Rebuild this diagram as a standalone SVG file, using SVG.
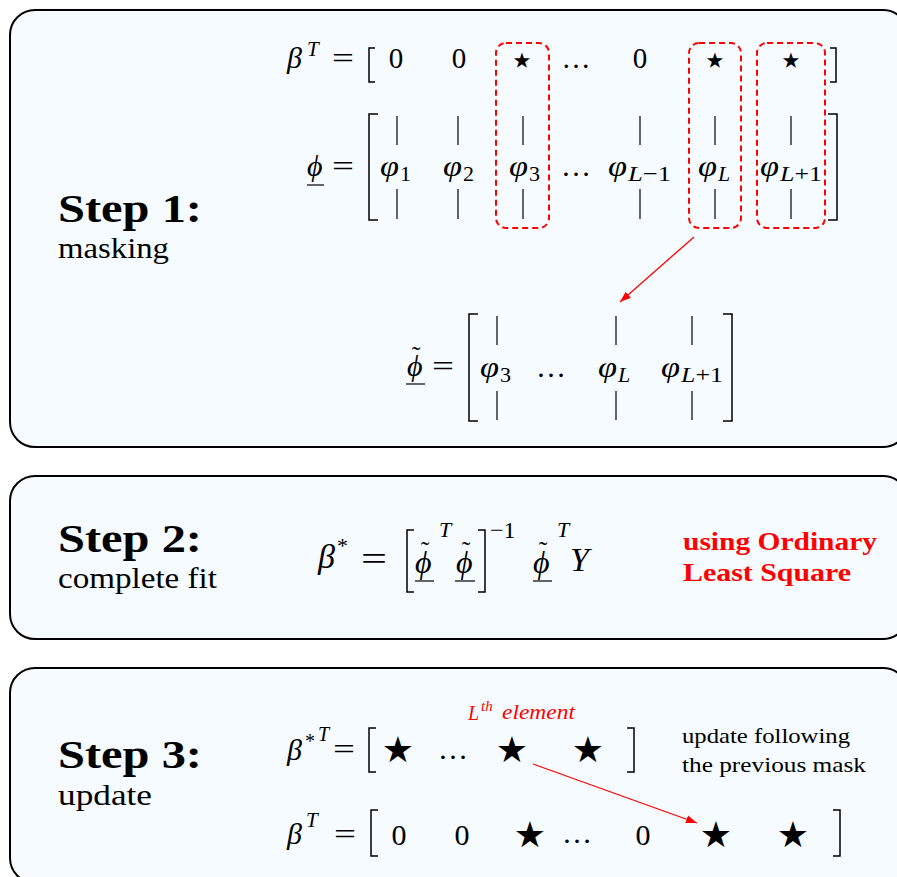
<svg xmlns="http://www.w3.org/2000/svg" width="897" height="877" viewBox="0 0 897 877">
  <defs>
    <marker id="arrowRed" markerUnits="userSpaceOnUse" markerWidth="12" markerHeight="10" refX="11" refY="5" orient="auto">
      <path d="M0,1 L11,5 L0,9 Z" fill="#ff0000"/>
    </marker>
    <style>
      .box { fill: #f5fbfe; stroke: #000; stroke-width: 2; }
      .serif { font-family: "Liberation Serif", "DejaVu Serif", serif; fill: #000; }
      .head { font-family: "Liberation Serif", "DejaVu Serif", serif; font-weight: bold; font-size: 40px; fill: #000; }
      .sub { font-family: "Liberation Serif", "DejaVu Serif", serif; font-size: 29px; fill: #000; }
      .mi { font-family: "Liberation Serif", "DejaVu Serif", serif; font-style: italic; fill: #000; }
      .mr { font-family: "Liberation Serif", "DejaVu Serif", serif; fill: #000; }
      .acc { font-style: normal; font-size: 26px; text-anchor: middle; }
      .sym { font-family: "DejaVu Sans", sans-serif; fill: #000; }
      .bar { stroke: #000; stroke-width: 1.2; }
      .brk { fill: none; stroke: #000; stroke-width: 1.5; }
      .ul { stroke: #000; stroke-width: 1.2; }
      .mask { fill: none; stroke: #ff0000; stroke-width: 2; stroke-dasharray: 6 4; }
      .link { stroke: #ff0000; stroke-width: 1.3; fill: none; marker-end: url(#arrowRed); }
      .red { fill: #ff0000; }
    </style>
  </defs>

  <!-- Step 1: masking -->
  <g id="step1">
    <rect class="box" x="10" y="10" width="898" height="437" rx="25"/>
    <text class="head" x="58" y="222" textLength="144" lengthAdjust="spacingAndGlyphs">Step 1:</text>
    <text class="sub" x="58" y="258" textLength="111" lengthAdjust="spacingAndGlyphs">masking</text>

    <!-- beta^T row -->
    <text class="mi" x="287" y="68" font-size="30">β</text>
    <text class="mi" x="307" y="56" font-size="21">T</text>
    <text class="mr" x="332" y="68" font-size="30" textLength="22" lengthAdjust="spacingAndGlyphs">=</text>
    <path class="brk" d="M375,48 H369 V82 H375"/>
    <g class="mr" font-size="29" text-anchor="middle">
      <text x="396" y="68">0</text>
      <text x="459" y="68">0</text>
      <text x="576" y="68">…</text>
      <text x="640" y="68">0</text>
    </g>
    <g class="sym" font-size="42" text-anchor="middle">
      <text x="522" y="74">⋆</text>
      <text x="715" y="74">⋆</text>
      <text x="791" y="74">⋆</text>
    </g>
    <path class="brk" d="M830,48 H836 V82 H830"/>

    <!-- phi matrix -->
    <text class="mi" x="307" y="176" font-size="30">ϕ</text>
    <line class="ul" x1="307" y1="185" x2="324" y2="185"/>
    <text class="mr" x="332" y="176" font-size="30" textLength="22" lengthAdjust="spacingAndGlyphs">=</text>
    <path class="brk" d="M378,114 H369 V220 H378"/>
    <g class="bar">
      <line x1="397" y1="116" x2="397" y2="145"/><line x1="397" y1="189" x2="397" y2="219"/>
      <line x1="458" y1="116" x2="458" y2="145"/><line x1="458" y1="189" x2="458" y2="219"/>
      <line x1="523" y1="116" x2="523" y2="145"/><line x1="523" y1="189" x2="523" y2="219"/>
      <line x1="640" y1="116" x2="640" y2="145"/><line x1="640" y1="189" x2="640" y2="219"/>
      <line x1="715" y1="116" x2="715" y2="145"/><line x1="715" y1="189" x2="715" y2="219"/>
      <line x1="791" y1="116" x2="791" y2="145"/><line x1="791" y1="189" x2="791" y2="219"/>
    </g>
    <g font-size="30">
      <text class="mi" x="380" y="176" textLength="19" lengthAdjust="spacingAndGlyphs">φ</text><text class="mr" x="400" y="181" font-size="22">1</text>
      <text class="mi" x="443" y="176" textLength="19" lengthAdjust="spacingAndGlyphs">φ</text><text class="mr" x="463" y="181" font-size="22">2</text>
      <text class="mi" x="509" y="176" textLength="19" lengthAdjust="spacingAndGlyphs">φ</text><text class="mr" x="529" y="181" font-size="22">3</text>
      <text class="mr" x="576" y="176" text-anchor="middle">…</text>
      <text class="mi" x="608" y="176" textLength="19" lengthAdjust="spacingAndGlyphs">φ</text><text class="mi" x="628" y="181" font-size="22" textLength="43" lengthAdjust="spacingAndGlyphs">L<tspan class="mr" font-style="normal">−1</tspan></text>
      <text class="mi" x="698" y="176" textLength="19" lengthAdjust="spacingAndGlyphs">φ</text><text class="mi" x="718" y="181" font-size="22">L</text>
      <text class="mi" x="760" y="176" textLength="19" lengthAdjust="spacingAndGlyphs">φ</text><text class="mi" x="780" y="181" font-size="22" textLength="42" lengthAdjust="spacingAndGlyphs">L<tspan class="mr" font-style="normal">+1</tspan></text>
    </g>
    <path class="brk" d="M828,114 H837 V220 H828"/>

    <!-- columns kept by the mask -->
    <rect class="mask" x="496" y="43" width="53" height="185" rx="10"/>
    <rect class="mask" x="689" y="43" width="52" height="185" rx="10"/>
    <rect class="mask" x="757" y="43" width="68" height="185" rx="10"/>

    <!-- reduced matrix phi tilde -->
    <text class="mi" x="407" y="376" font-size="30">ϕ<tspan class="acc" x="416" y="364">˜</tspan></text>
    <line class="ul" x1="406" y1="384" x2="425" y2="384"/>
    <text class="mr" x="432" y="376" font-size="30" textLength="22" lengthAdjust="spacingAndGlyphs">=</text>
    <path class="brk" d="M478,314 H469 V421 H478"/>
    <g class="bar">
      <line x1="497" y1="316" x2="497" y2="345"/><line x1="497" y1="391" x2="497" y2="420"/>
      <line x1="616" y1="316" x2="616" y2="345"/><line x1="616" y1="391" x2="616" y2="420"/>
      <line x1="692" y1="316" x2="692" y2="345"/><line x1="692" y1="391" x2="692" y2="420"/>
    </g>
    <g font-size="30">
      <text class="mi" x="480" y="377" textLength="19" lengthAdjust="spacingAndGlyphs">φ</text><text class="mr" x="500" y="382" font-size="22">3</text>
      <text class="mr" x="551" y="377" text-anchor="middle">…</text>
      <text class="mi" x="598" y="377" textLength="19" lengthAdjust="spacingAndGlyphs">φ</text><text class="mi" x="618" y="382" font-size="22">L</text>
      <text class="mi" x="661" y="377" textLength="19" lengthAdjust="spacingAndGlyphs">φ</text><text class="mi" x="681" y="382" font-size="22" textLength="42" lengthAdjust="spacingAndGlyphs">L<tspan class="mr" font-style="normal">+1</tspan></text>
    </g>
    <path class="brk" d="M723,314 H732 V421 H723"/>
  </g>

  <!-- Step 2: complete fit -->
  <g id="step2">
    <rect class="box" x="10" y="476" width="898" height="163" rx="25"/>
    <text class="head" x="58" y="552" textLength="144" lengthAdjust="spacingAndGlyphs">Step 2:</text>
    <text class="sub" x="58" y="588" textLength="159" lengthAdjust="spacingAndGlyphs">complete fit</text>

    <text class="mi" x="318" y="568" font-size="34">β</text>
    <text class="mr" x="337" y="553" font-size="22">*</text>
    <text class="mr" x="361" y="570" font-size="34" textLength="26" lengthAdjust="spacingAndGlyphs">=</text>
    <path class="brk" d="M414,530 H407 V592 H414"/>
    <text class="mi" x="415" y="573" font-size="32">ϕ<tspan class="acc" x="425" y="559">˜</tspan></text>
    <line class="ul" x1="415" y1="581" x2="434" y2="581"/>
    <text class="mi" x="439" y="537" font-size="22">T</text>
    <text class="mi" x="456" y="573" font-size="32">ϕ<tspan class="acc" x="466" y="559">˜</tspan></text>
    <line class="ul" x1="455" y1="581" x2="475" y2="581"/>
    <path class="brk" d="M478,530 H485 V592 H478"/>
    <text class="mr" x="490" y="538" font-size="24">−1</text>
    <text class="mi" x="533" y="573" font-size="32">ϕ<tspan class="acc" x="543" y="559">˜</tspan></text>
    <line class="ul" x1="533" y1="581" x2="552" y2="581"/>
    <text class="mi" x="557" y="537" font-size="22">T</text>
    <text class="mi" x="570" y="571" font-size="34">Y</text>

    <g class="red" font-family="Liberation Serif, DejaVu Serif, serif" font-weight="bold" font-size="25">
      <text x="683" y="550" textLength="194" lengthAdjust="spacingAndGlyphs">using Ordinary</text>
      <text x="683" y="581" textLength="168" lengthAdjust="spacingAndGlyphs">Least Square</text>
    </g>
  </g>

  <!-- Step 3: update -->
  <g id="step3">
    <rect class="box" x="10" y="668" width="898" height="215" rx="25"/>
    <text class="head" x="58" y="768" textLength="144" lengthAdjust="spacingAndGlyphs">Step 3:</text>
    <text class="sub" x="58" y="805" textLength="94" lengthAdjust="spacingAndGlyphs">update</text>

    <!-- L-th element label -->
    <g class="red" font-family="Liberation Serif, DejaVu Serif, serif" font-style="italic">
      <text x="468" y="720" font-size="20">L</text>
      <text x="481" y="711" font-size="15">th</text>
      <text x="502" y="719" font-size="21" textLength="73" lengthAdjust="spacingAndGlyphs">element</text>
    </g>

    <!-- fitted coefficients -->
    <text class="mi" x="287" y="760" font-size="30">β</text>
    <text class="mr" x="305" y="748" font-size="20">*</text>
    <text class="mi" x="318" y="741" font-size="20">T</text>
    <text class="mr" x="333" y="759" font-size="30" textLength="22" lengthAdjust="spacingAndGlyphs">=</text>
    <path class="brk" d="M376,728 H369 V772 H376"/>
    <g class="sym" font-size="36" text-anchor="middle">
      <text x="398" y="762">★</text>
      <text x="512" y="762">★</text>
      <text x="588" y="762">★</text>
    </g>
    <text class="mr" x="453" y="759" font-size="30" text-anchor="middle">…</text>
    <path class="brk" d="M627,728 H634 V772 H627"/>

    <text class="serif" x="682" y="743" font-size="21" textLength="168" lengthAdjust="spacingAndGlyphs">update following</text>
    <text class="serif" x="682" y="772" font-size="21" textLength="184" lengthAdjust="spacingAndGlyphs">the previous mask</text>

    <!-- updated coefficient vector -->
    <text class="mi" x="287" y="844" font-size="30">β</text>
    <text class="mi" x="306" y="827" font-size="21">T</text>
    <text class="mr" x="334" y="844" font-size="30" textLength="22" lengthAdjust="spacingAndGlyphs">=</text>
    <path class="brk" d="M378,810 H371 V856 H378"/>
    <g class="mr" font-size="30" text-anchor="middle">
      <text x="399" y="845">0</text>
      <text x="462" y="845">0</text>
      <text x="577" y="843">…</text>
      <text x="643" y="845">0</text>
    </g>
    <g class="sym" font-size="36" text-anchor="middle">
      <text x="530" y="847">★</text>
      <text x="716" y="847">★</text>
      <text x="793" y="847">★</text>
    </g>
    <path class="brk" d="M833,810 H840 V856 H833"/>
  </g>

  <!-- connectors -->
  <g id="connectors">
    <line class="link" x1="694" y1="237" x2="620" y2="302"/>
    <line class="link" x1="533" y1="764" x2="697" y2="823"/>
  </g>
</svg>
